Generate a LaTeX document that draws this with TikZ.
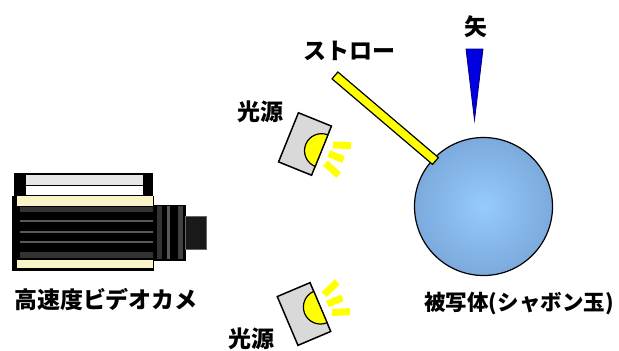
\documentclass[tikz,border=0pt]{standalone}
\usepackage{fontspec}
\newfontfamily\jp{Noto Sans CJK JP}
\definecolor{cream}{RGB}{250,245,200}
\definecolor{stripgrey}{RGB}{230,230,230}
\definecolor{lampgrey}{RGB}{217,217,217}
\definecolor{bulbyellow}{RGB}{255,255,0}
\definecolor{bubblein}{RGB}{150,202,255}
\definecolor{bubbleout}{RGB}{124,170,220}
\definecolor{dartblue}{RGB}{0,0,225}

\begin{document}
\begin{tikzpicture}[x=1pt,y=-1pt,
        jplabel/.style={inner sep=0pt,font=\jp\bfseries\fontsize{23}{23}\selectfont},
        lampbox/.style={draw=black,line width=1.5pt,fill=lampgrey},
        bulb/.style={draw=black,line width=1.2pt,fill=bulbyellow},
        ray/.style={draw=bulbyellow,line width=7pt},
        straw/.style={rectangle,draw=black,line width=1.2pt,fill=bulbyellow,
            minimum width=132pt,minimum height=9pt,inner sep=0pt},
        bubble/.style={circle,draw=black,line width=1.2pt,inner color=bubblein,
            outer color=bubbleout,minimum size=138pt,inner sep=0pt},
        dart/.style={draw=black!50!blue,line width=0.8pt,fill=dartblue},
        lamp/.pic={
            \draw[lampbox] (-17.8,-26.5) rectangle (17.8,26.5);
            \draw[bulb] (17.8,-17) arc (270:90:17) -- cycle;
            \draw[ray] (-20:28) -- (-20:46);
            \draw[ray] (0:25.5) -- (0:41.5);
            \draw[ray] (21:28) -- (21:46);
        }]
    \useasboundingbox (0,0) rectangle (619,351);

    % camera: top unit
    \fill[black] (14,173) rectangle (153,196);
    \fill[stripgrey] (26,175) rectangle (143,185);
    \fill[white] (26,186) rectangle (143,195);

    % camera: body
    \draw[fill=black] (12,196) rectangle (153,270);
    \fill[cream] (17,196) rectangle (153,206);
    \fill[cream] (17,260) rectangle (153,268);
    \fill[black!80] (20,207) rectangle (153,212);
    \fill[black!80] (20,252) rectangle (153,258);
    \draw[black!65,line width=1.5pt] (20,221) -- (153,221);
    \draw[black!65,line width=1.5pt] (20,232) -- (153,232);
    \draw[black!65,line width=1.5pt] (20,242) -- (153,242);

    % camera: lens and cap
    \draw[fill=black] (153,205) rectangle (185,260);
    \fill[black!80] (157,206) rectangle (162,259);
    \fill[black!65] (167,206) rectangle (170,259);
    \fill[black!75] (178,206) rectangle (183,259);
    \draw[black!60,fill=black!90] (185,216) rectangle (206,249);

    % light sources
    \pic[rotate=-22] (lampA) at (305,144) {lamp};
    \pic[rotate=23,yscale=-1] (lampB) at (304,314) {lamp};

    % soap bubble with straw
    \node[bubble] (ball) at (483.5,206.5) {};
    \node[straw,rotate=-40.4] (pipe) at (385.2,118.2) {};

    % arrow
    \draw[dart] (466,49) -- (483,49) -- (474.5,120) -- cycle;

    % labels
    \node[jplabel] (arrowtag) at (476,27) {矢};
    \node[jplabel] (pipetag) at (349,51) {ストロー};
    \node[jplabel] (lamptagA) at (260,112) {光源};
    \node[jplabel] (lamptagB) at (251,339) {光源};
    \node[jplabel] (cameratag) at (106,300) {高速度ビデオカメ};
    \node[jplabel,font=\jp\bfseries\fontsize{21.5}{22}\selectfont] (balltag) at (519,303.5) {被写体(シャボン玉)};
\end{tikzpicture}
\end{document}
